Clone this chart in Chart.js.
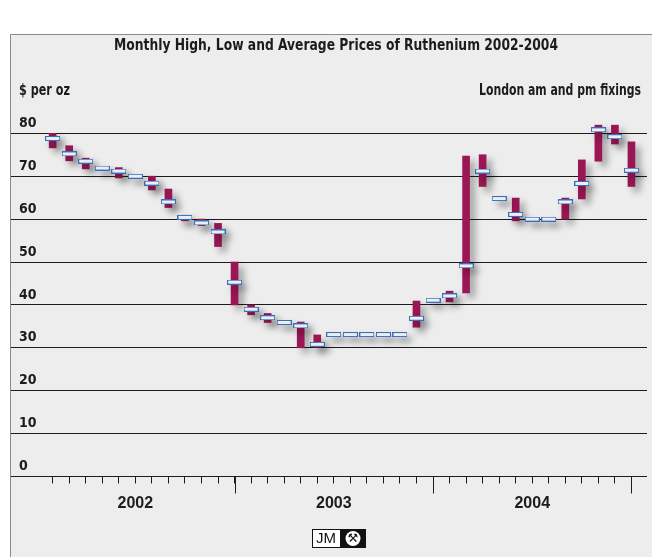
<!DOCTYPE html>
<html>
<head>
<meta charset="utf-8">
<script src="https://cdn.jsdelivr.net/npm/chart.js@4"></script>
<style>
  html, body { margin: 0; padding: 0; background: #fff; overflow: hidden; }
  #wrap { width: 652px; height: 557px; position: relative; }
  #myChart { display: block; }
</style>
</head>
<body>
<div id="wrap"><canvas id="myChart"></canvas></div>
<script>
// monthly ruthenium prices, Jan 2002 .. Dec 2004 ($ per oz)
const months = [
  "Jan 2002", "Feb 2002", "Mar 2002", "Apr 2002", "May 2002", "Jun 2002",
  "Jul 2002", "Aug 2002", "Sep 2002", "Oct 2002", "Nov 2002", "Dec 2002",
  "Jan 2003", "Feb 2003", "Mar 2003", "Apr 2003", "May 2003", "Jun 2003",
  "Jul 2003", "Aug 2003", "Sep 2003", "Oct 2003", "Nov 2003", "Dec 2003",
  "Jan 2004", "Feb 2004", "Mar 2004", "Apr 2004", "May 2004", "Jun 2004",
  "Jul 2004", "Aug 2004", "Sep 2004", "Oct 2004", "Nov 2004", "Dec 2004",
];
const high = [
  80.0, 77.1, 74.2, 72.2, 72.0, 70.2, 70.0, 67.0, 60.9, 60.0, 59.0, 50.0,
  40.0, 38.0, 36.1, 36.0, 33.0, 33.2, 33.2, 33.2, 33.2, 33.2, 40.9, 41.3,
  43.2, 74.7, 75.0, 65.0, 64.9, 60.2, 60.2, 64.9, 73.8, 81.9, 81.9, 78.0,
];
const low = [
  76.6, 73.6, 71.7, 71.6, 69.6, 69.8, 66.8, 62.7, 59.6, 58.5, 53.6, 40.0,
  37.7, 35.9, 35.7, 30.0, 30.1, 32.9, 32.9, 32.9, 32.9, 32.9, 34.8, 40.9,
  40.7, 42.8, 67.6, 64.6, 59.6, 59.8, 59.8, 60.0, 64.7, 73.5, 77.5, 67.6,
];
const avg = [
  78.8, 75.2, 73.5, 71.9, 71.2, 70.0, 68.4, 64.0, 60.4, 59.1, 57.0, 45.3,
  39.0, 37.0, 35.9, 35.1, 30.8, 33.1, 33.1, 33.1, 33.1, 33.1, 36.9, 41.1,
  42.1, 49.1, 71.2, 64.8, 61.1, 60.0, 60.0, 64.0, 68.3, 80.8, 79.2, 71.4,
];
const yearLabels = ["2002", "2003", "2004"];

const narrow = "'DejaVu Sans Condensed', 'DejaVu Sans', sans-serif";
const ink = "#1c1c1c";

// little white/blue box used as the average marker
const marker = document.createElement("canvas");
marker.width = 15;
marker.height = 5;
const mctx = marker.getContext("2d");
mctx.fillStyle = "#e8eff9";
mctx.fillRect(0, 0, 15, 5);
mctx.strokeStyle = "#3b6cb4";
mctx.lineWidth = 1;
mctx.strokeRect(0.5, 0.5, 14, 4);

// squeeze a text into a given width (the original uses a condensed face)
function fitText(ctx, text, x, y, width, align) {
  const w = ctx.measureText(text).width;
  const k = Math.min(1, width / w);
  ctx.save();
  ctx.translate(x, y);
  ctx.scale(k, 1);
  ctx.textAlign = align;
  ctx.fillText(text, 0, 0);
  ctx.restore();
}

// grey panel, texts and logo
const decor = {
  id: "decor",
  beforeDraw(chart) {
    const ctx = chart.ctx;
    ctx.save();
    ctx.fillStyle = "#ededed";
    ctx.fillRect(10, 34, chart.width - 10, chart.height - 34);
    ctx.strokeStyle = "#8a8a8a";
    ctx.lineWidth = 1;
    ctx.beginPath();
    ctx.moveTo(10.5, chart.height);
    ctx.lineTo(10.5, 34.5);
    ctx.lineTo(chart.width, 34.5);
    ctx.stroke();
    ctx.restore();
  },
  afterDraw(chart) {
    const ctx = chart.ctx;
    const x = chart.scales.x;
    const bottom = chart.chartArea.bottom;
    ctx.save();
    // long ticks at the year ends
    ctx.strokeStyle = ink;
    ctx.lineWidth = 1;
    [11, 23, 35].forEach((v) => {
      const px = Math.round(x.getPixelForValue(v)) + 0.5;
      ctx.beginPath();
      ctx.moveTo(px, bottom);
      ctx.lineTo(px, bottom + 17);
      ctx.stroke();
    });

    ctx.fillStyle = ink;
    ctx.textBaseline = "middle";
    ctx.font = "bold 16px " + narrow;
    fitText(ctx, "Monthly High, Low and Average Prices of Ruthenium 2002-2004", 336, 46, 444, "center");
    ctx.font = "bold 15px " + narrow;
    fitText(ctx, "$ per oz", 19, 91, 51, "left");
    fitText(ctx, "London am and pm fixings", 641, 91, 162, "right");

    // JM logo
    ctx.fillStyle = "#fff";
    ctx.fillRect(312, 529, 28, 19);
    ctx.fillStyle = "#111";
    ctx.fillRect(340, 529, 26, 19);
    ctx.strokeStyle = "#111";
    ctx.strokeRect(312.5, 529.5, 53, 18);
    ctx.font = "15px 'Liberation Sans', sans-serif";
    ctx.textAlign = "center";
    ctx.fillText("JM", 326, 539);
    ctx.fillStyle = "#fff";
    ctx.beginPath();
    ctx.arc(353, 538.5, 7.5, 0, Math.PI * 2);
    ctx.fill();
    ctx.fillStyle = "#111";
    ctx.font = "bold 12px 'DejaVu Sans', sans-serif";
    ctx.fillText("\u2692", 353, 539);

    ctx.restore();
  },
};

// soft drop shadow behind bars and markers
const shadow = {
  id: "shadow",
  beforeDatasetsDraw(chart) {
    const ctx = chart.ctx;
    ctx.save();
    ctx.shadowColor = "rgba(0, 0, 0, 0.33)";
    ctx.shadowBlur = 7;
    ctx.shadowOffsetX = 5;
    ctx.shadowOffsetY = 5;
  },
  afterDatasetsDraw(chart) {
    chart.ctx.restore();
  },
};

const ctx = document.getElementById("myChart").getContext("2d");
new Chart(ctx, {
  type: "bar",
  data: {
    labels: months,
    datasets: [
      {
        type: "line",
        label: "Average",
        data: avg.map((v, i) => ({ x: i, y: v })),
        showLine: false,
        pointStyle: marker,
        clip: false,
      },
      {
        label: "High / Low",
        data: months.map((m, i) => ({ x: i, y: [low[i], high[i]] })),
        backgroundColor: "#9a1654",
        borderWidth: 0,
        barThickness: 7,
        grouped: false,
        clip: false,
      },
    ],
  },
  options: {
    responsive: true,
    maintainAspectRatio: false,
    animation: false,
    layout: {
      padding: { top: 133.3, left: -5, right: -5, bottom: 34.3 },
    },
    plugins: {
      legend: { display: false },
      tooltip: { enabled: false },
    },
    scales: {
      x: {
        type: "linear",
        offset: false,
        min: -2.52,
        max: 35.94,
        afterBuildTicks: (scale) => {
          scale.ticks = months.map((m, i) => ({ value: i }));
        },
        grid: {
          offset: false,
          drawOnChartArea: false,
          tickLength: 7,
          color: ink,
          lineWidth: 1,
        },
        border: { display: false },
        ticks: {
          autoSkip: false,
          maxRotation: 0,
          padding: 10,
          color: ink,
          font: { family: "'Liberation Sans', Arial, sans-serif", size: 16, weight: "bold" },
          callback: (value) => ((value - 5) % 12 === 0 ? yearLabels[(value - 5) / 12] : ""),
        },
      },
      y: {
        min: 0,
        max: 80,
        ticks: {
          stepSize: 10,
          mirror: true,
          padding: 8,
          labelOffset: -10,
          color: ink,
          font: { family: narrow, size: 14, weight: "bold" },
        },
        grid: {
          drawTicks: false,
          color: ink,
          lineWidth: 1,
        },
        border: { display: false },
      },
    },
  },
  plugins: [decor, shadow],
});
</script>
</body>
</html>
